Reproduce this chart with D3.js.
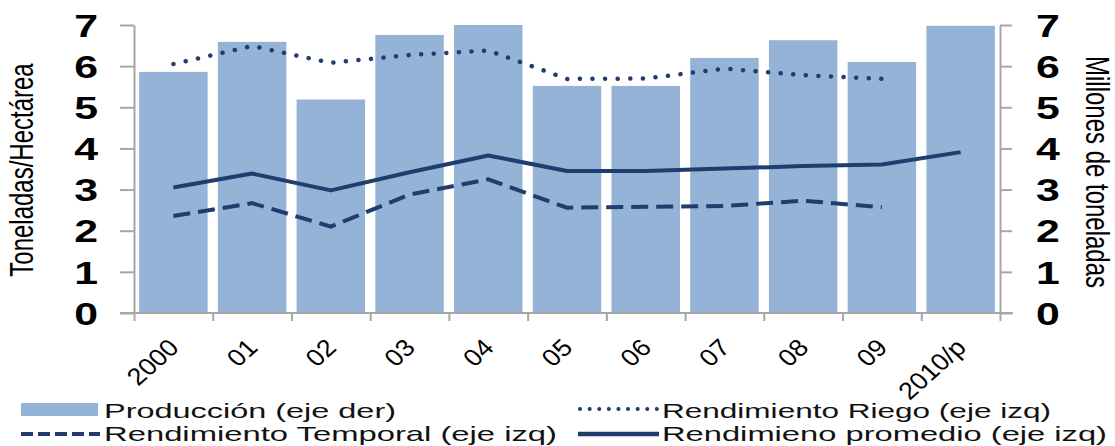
<!DOCTYPE html>
<html>
<head>
<meta charset="utf-8">
<script src="https://cdn.jsdelivr.net/npm/d3@7"></script>
<style>
  html, body { margin: 0; padding: 0; background: #fff; }
  svg { display: block; font-family: "Liberation Sans", Arial, sans-serif; }
</style>
</head>
<body>
<svg id="chart" width="1115" height="446"></svg>
<script>
// Years on the category axis
const categories = ["2000", "01", "02", "03", "04", "05", "06", "07", "08", "09", "2010/p"];
// Producción, millones de toneladas (eje derecho)
const produccion = [5.86, 6.59, 5.19, 6.76, 7.0, 5.52, 5.52, 6.2, 6.63, 6.1, 6.98];
// Rendimientos, toneladas por hectárea (eje izquierdo)
const riego = [6.05, 6.49, 6.08, 6.27, 6.38, 5.69, 5.7, 5.94, 5.78, 5.69, null];
const temporal = [2.36, 2.67, 2.1, 2.88, 3.25, 2.56, 2.58, 2.6, 2.73, 2.57, null];
const promedio = [3.05, 3.39, 2.98, 3.42, 3.83, 3.45, 3.45, 3.51, 3.57, 3.61, 3.91];
// Axis ticks
const yTicks = [0, 1, 2, 3, 4, 5, 6, 7];
// Legend entries
const legendLabels = [
  "Producción (eje der)",
  "Rendimiento Riego (eje izq)",
  "Rendimiento Temporal (eje izq)",
  "Rendimieno promedio (eje izq)"
];

const SX = 1.38;               // horizontal text stretch
const barColor = "#95b3d7";
const lineColor = "#1f3d6d";
const axisColor = "#a6a6a6";

const svg = d3.select("#chart");
const plotL = 134, plotR = 1000, plotT = 25, plotB = 313;

const x = d3.scaleBand().domain(categories).range([plotL, plotR]).padding(0);
const bw = x.bandwidth();
const y = d3.scaleLinear().domain([0, 7]).range([plotB, plotT]);
const yR = d3.scaleLinear().domain([0, 7]).range([plotB, plotT]);
const cx = (i) => x(categories[i]) + bw / 2;

// Production bars (right axis)
svg.append("g").selectAll("rect")
  .data(produccion)
  .join("rect")
  .attr("x", (d, i) => x(categories[i]) + bw * 0.065)
  .attr("width", bw * 0.87)
  .attr("y", d => yR(d))
  .attr("height", d => yR(0) - yR(d))
  .attr("fill", barColor);

// Left axis
const gL = svg.append("g").attr("transform", `translate(${plotL},0)`)
  .call(d3.axisLeft(y).tickValues(yTicks).tickFormat(d3.format("d")).tickSize(14).tickSizeOuter(0));
gL.selectAll("path, line").attr("stroke", axisColor).attr("stroke-width", 2);
gL.selectAll("text")
  .attr("x", 0).attr("dy", "0.36em")
  .attr("transform", `translate(${98 - plotL},0) scale(${SX},1)`)
  .attr("font-size", 31).attr("font-weight", "bold")
  .attr("font-family", "Liberation Sans, Arial, sans-serif")
  .attr("fill", "#000");

// Right axis
const gR = svg.append("g").attr("transform", `translate(${plotR},0)`)
  .call(d3.axisRight(yR).tickValues(yTicks).tickFormat(d3.format("d")).tickSize(12).tickSizeOuter(0));
gR.selectAll("path, line").attr("stroke", axisColor).attr("stroke-width", 2);
gR.selectAll("text")
  .attr("x", 0).attr("dy", "0.36em")
  .attr("transform", `translate(36,0) scale(${SX},1)`)
  .attr("font-size", 31).attr("font-weight", "bold")
  .attr("font-family", "Liberation Sans, Arial, sans-serif")
  .attr("fill", "#000");

// Bottom axis: baseline and tick marks at category boundaries
const xEdge = d3.scaleLinear().domain([0, categories.length]).range([plotL, plotR]);
const gB = svg.append("g").attr("transform", `translate(0,${plotB})`)
  .call(d3.axisBottom(xEdge).tickValues(d3.range(0, categories.length + 1)).tickFormat("").tickSize(8).tickSizeOuter(0));
gB.select("path").attr("d", `M${plotL - 14},0H${plotR + 13}`);
gB.selectAll("path, line").attr("stroke", axisColor).attr("stroke-width", 2);

// Category labels, rotated
const gX = svg.append("g").attr("transform", `translate(0,${plotB})`)
  .call(d3.axisBottom(x).tickSize(0));
gX.select("path").remove();
gX.selectAll("text")
  .attr("y", 0).attr("dy", 0)
  .attr("text-anchor", "end")
  .attr("transform", `translate(7,36) scale(1.12,1) rotate(-45)`)
  .attr("font-size", 24)
  .attr("font-family", "Liberation Sans, Arial, sans-serif")
  .attr("fill", "#000");

// Yield lines (left axis)
const line = d3.line()
  .defined(d => d != null)
  .x((d, i) => cx(i))
  .y(d => y(d));

svg.append("path").datum(riego)
  .attr("d", line).attr("fill", "none")
  .attr("stroke", lineColor).attr("stroke-width", 4.5)
  .attr("stroke-linecap", "round").attr("stroke-dasharray", "0.1,12.5");

svg.append("path").datum(temporal)
  .attr("d", line).attr("fill", "none")
  .attr("stroke", lineColor).attr("stroke-width", 4)
  .attr("stroke-dasharray", "17,8");

svg.append("path").datum(promedio)
  .attr("d", line).attr("fill", "none")
  .attr("stroke", lineColor).attr("stroke-width", 4)
  .attr("stroke-linejoin", "round");

// Axis titles
svg.append("text")
  .attr("transform", `translate(33,170) scale(${SX},1) rotate(-90)`)
  .attr("text-anchor", "middle")
  .attr("font-size", 24)
  .attr("fill", "#000")
  .text("Toneladas/Hectárea");

svg.append("text")
  .attr("transform", `translate(1086,172) scale(${SX},1) rotate(90)`)
  .attr("text-anchor", "middle")
  .attr("font-size", 24)
  .attr("fill", "#000")
  .text("Millones de toneladas");

// Legend
const lg = svg.append("g").attr("font-size", 21).attr("fill", "#111");

lg.append("rect").attr("x", 21).attr("y", 403).attr("width", 77).attr("height", 13).attr("fill", barColor);
lg.append("text").attr("x", 104).attr("y", 418)
  .attr("textLength", 292).attr("lengthAdjust", "spacingAndGlyphs").text(legendLabels[0]);

lg.append("line").attr("x1", 580).attr("x2", 657).attr("y1", 409).attr("y2", 409)
  .attr("stroke", lineColor).attr("stroke-width", 4).attr("stroke-linecap", "round")
  .attr("stroke-dasharray", "0.1,9.5");
lg.append("text").attr("x", 662).attr("y", 418)
  .attr("textLength", 389).attr("lengthAdjust", "spacingAndGlyphs").text(legendLabels[1]);

lg.append("line").attr("x1", 21).attr("x2", 100).attr("y1", 434).attr("y2", 434)
  .attr("stroke", lineColor).attr("stroke-width", 4)
  .attr("stroke-dasharray", "12,5");
lg.append("text").attr("x", 104).attr("y", 441)
  .attr("textLength", 453).attr("lengthAdjust", "spacingAndGlyphs").text(legendLabels[2]);

lg.append("line").attr("x1", 578).attr("x2", 659).attr("y1", 434).attr("y2", 434)
  .attr("stroke", lineColor).attr("stroke-width", 4.5);
lg.append("text").attr("x", 662).attr("y", 441)
  .attr("textLength", 445).attr("lengthAdjust", "spacingAndGlyphs").text(legendLabels[3]);
</script>
</body>
</html>
